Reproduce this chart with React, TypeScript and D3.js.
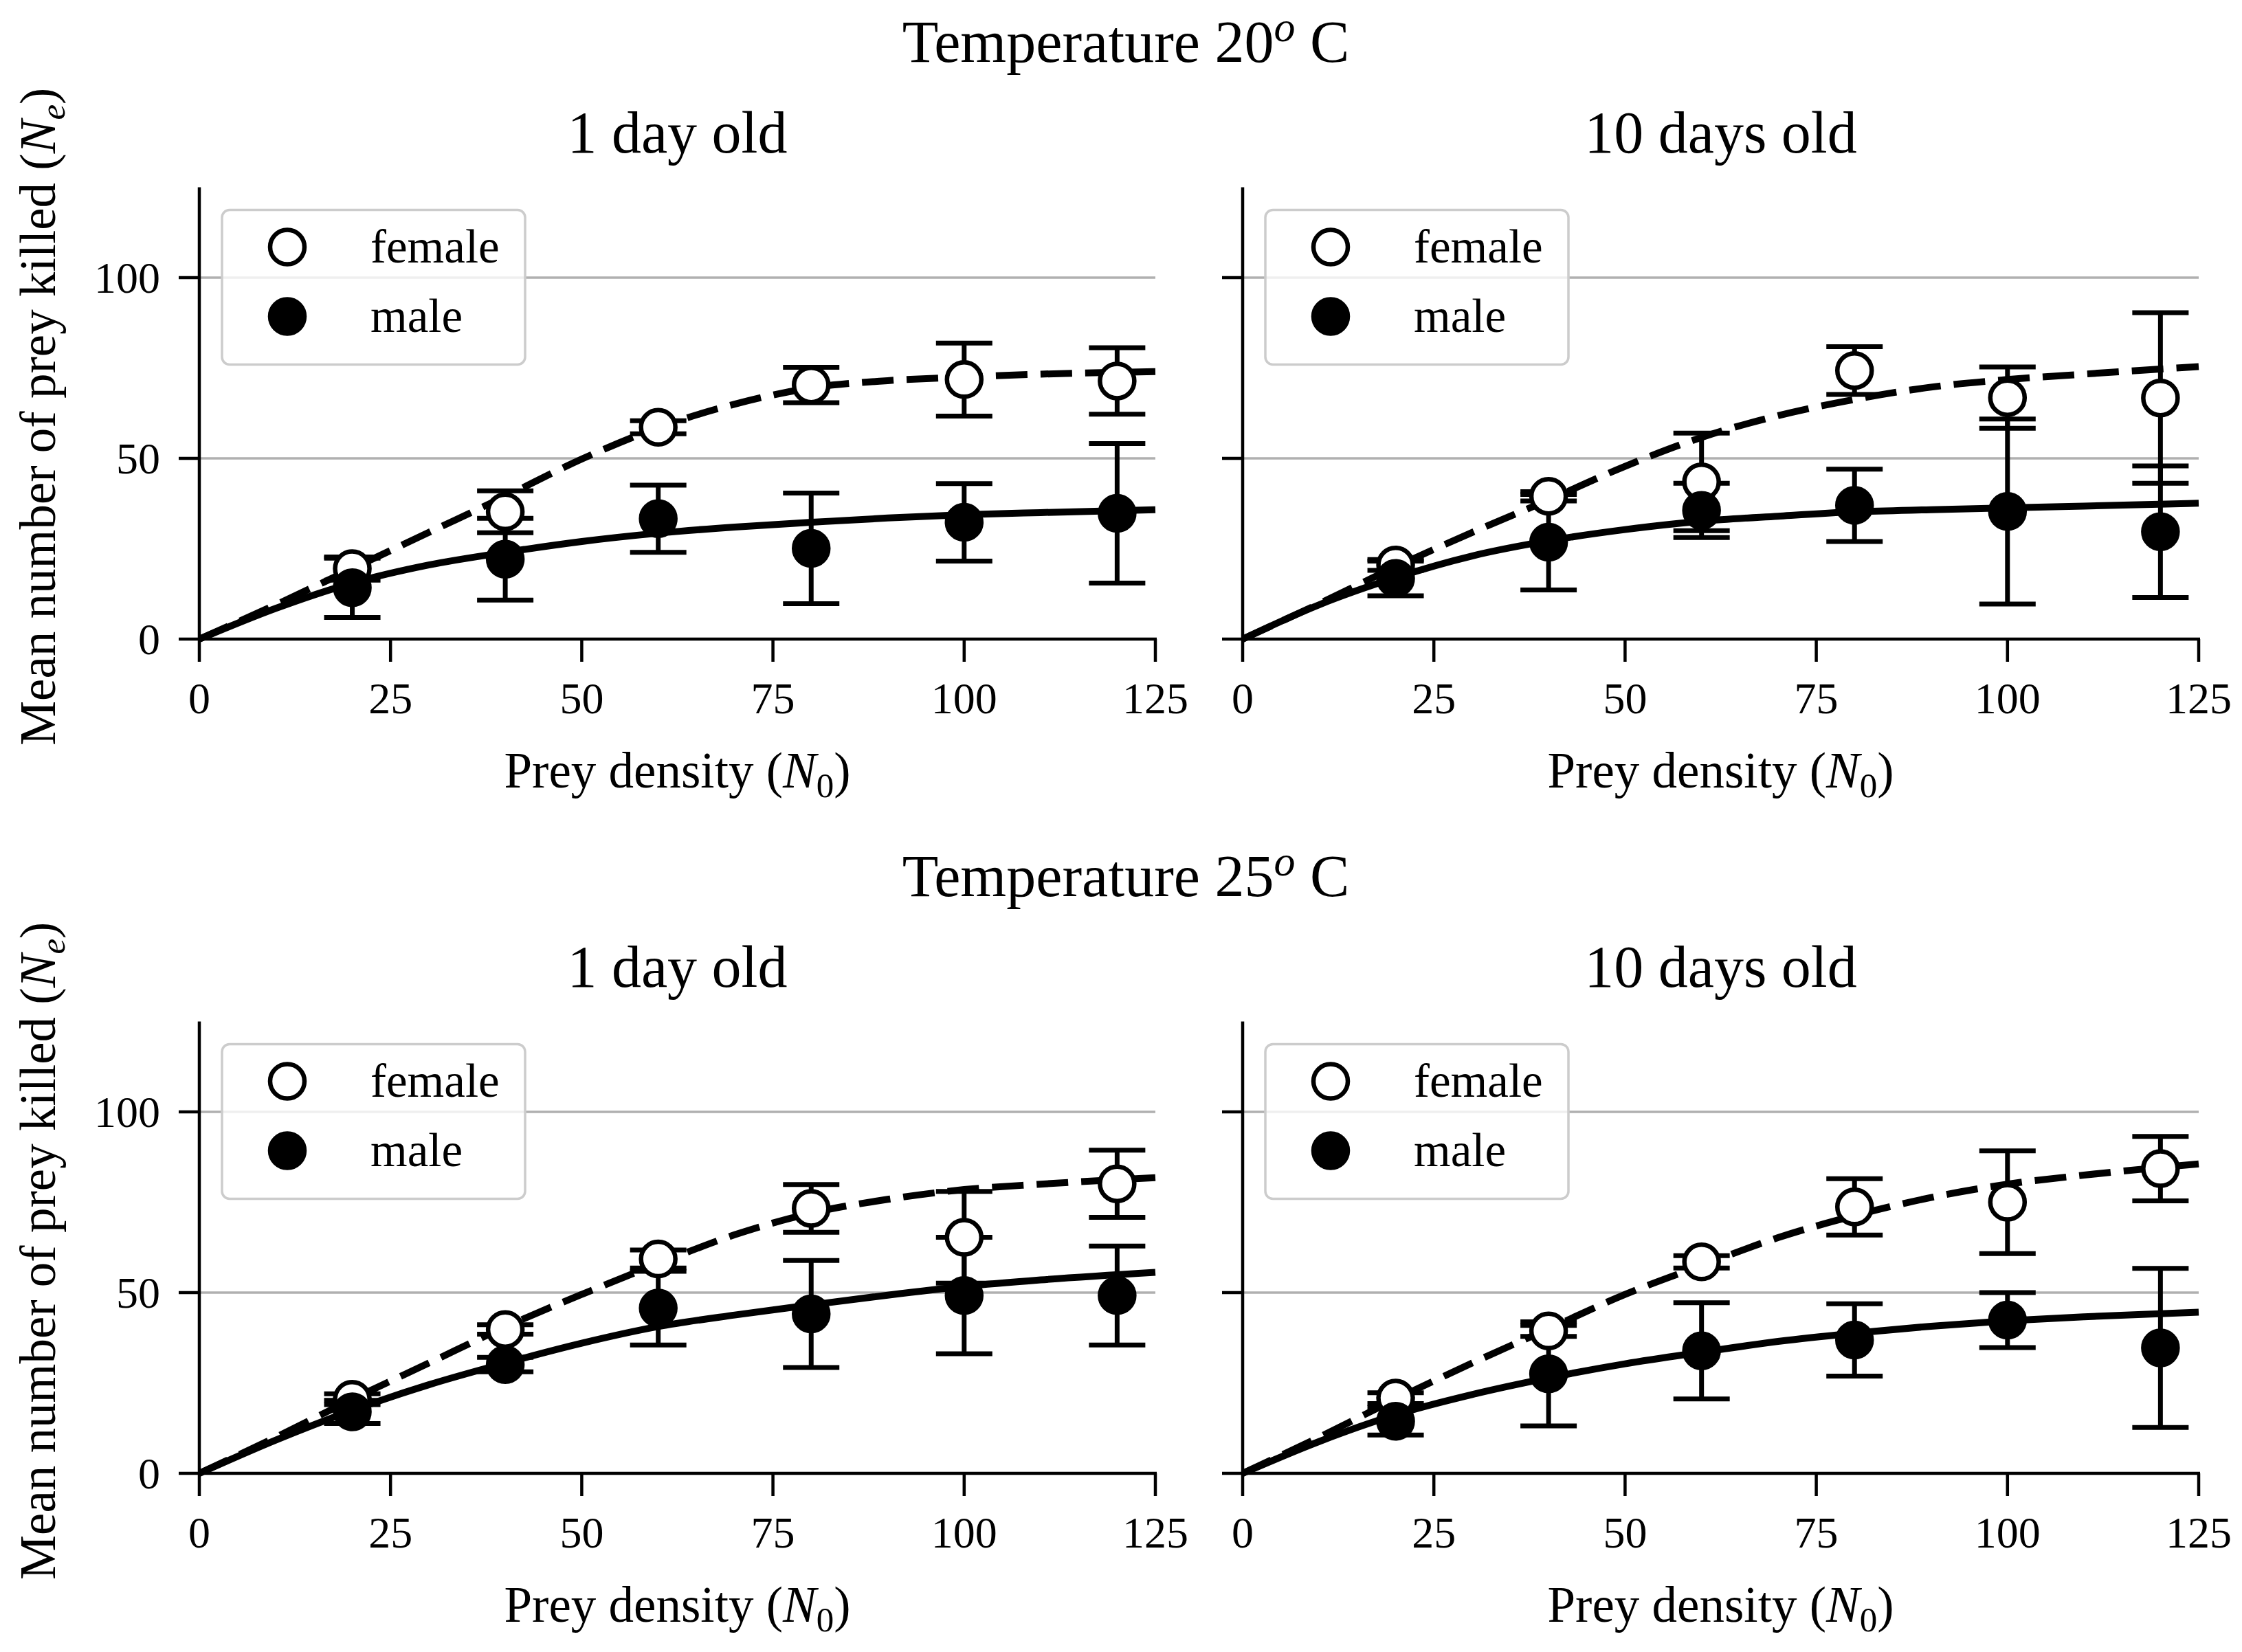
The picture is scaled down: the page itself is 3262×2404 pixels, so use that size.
import React from "react";
import * as d3 from "d3";

// ---------- data ----------
const preyDensity = [20, 40, 60, 80, 100, 120];
const xTicks = [0, 25, 50, 75, 100, 125];
const yTicks = [0, 50, 100];
const gridValues = [50, 100];
const curveX = [0, 10, 20, 30, 40, 50, 60, 70, 80, 90, 100, 110, 125];

const rowTitles = ["20", "25"];
const colTitles = ["1 day old", "10 days old"];

// 20 C, 1 day old
const t20d1FemaleMean = [19.5, 35.2, 58.6, 70.3, 71.8, 71.4];
const t20d1FemaleErr = [3.2, 5.8, 1.8, 4.9, 10.1, 9.2];
const t20d1MaleMean = [14.2, 22.1, 33.3, 25.1, 32.3, 34.8];
const t20d1MaleErr = [8.2, 11.3, 9.3, 15.3, 10.7, 19.3];
const t20d1FemaleFit = [0, 9.5, 19.5, 29.5, 39.5, 49.8, 58.5, 65, 69.5, 71.5, 72.5, 73.3, 74];
const t20d1MaleFit = [0, 8.5, 15.5, 20.5, 24, 27, 29.3, 31, 32.3, 33.5, 34.4, 35, 35.8];

// 20 C, 10 days old
const t20d10FemaleMean = [20.5, 39.5, 43.5, 74.3, 66.8, 66.7];
const t20d10FemaleErr = [1.5, 1.3, 13.5, 6.6, 8.5, 23.6];
const t20d10MaleMean = [16.8, 26.8, 35.6, 37, 35.3, 29.7];
const t20d10MaleErr = [4.8, 13.2, 7.5, 10, 25.6, 18.2];
const t20d10FemaleFit = [0, 9.8, 20, 29.5, 38.5, 47.8, 55.8, 61.8, 66.3, 69.7, 71.8, 73.3, 75.4];
const t20d10MaleFit = [0, 9.5, 17, 23, 27.2, 30.3, 32.6, 34, 35.2, 35.8, 36.3, 36.8, 37.6];

// 25 C, 1 day old
const t25d1FemaleMean = [20.5, 39.8, 59.3, 73.3, 65.3, 80.1];
const t25d1FemaleErr = [1.5, 1.3, 2.5, 6.6, 12.7, 9.3];
const t25d1MaleMean = [17, 30.1, 45.7, 44.1, 49.2, 49.2];
const t25d1MaleErr = [3.2, 2, 10.2, 14.8, 16.1, 13.7];
const t25d1FemaleFit = [0, 10, 20.5, 30.5, 40.5, 49.5, 58, 66, 72, 75.8, 78.5, 80, 81.8];
const t25d1MaleFit = [0, 9.2, 17.4, 24.5, 30.5, 36, 40.6, 43.8, 46.6, 49.3, 51.7, 53.5, 55.6];

// 25 C, 10 days old
const t25d10FemaleMean = [20.8, 39.4, 58.5, 73.7, 75, 84.3];
const t25d10FemaleErr = [1.5, 1.5, 1.7, 7.8, 14.2, 8.9];
const t25d10MaleMean = [14.4, 27.5, 33.9, 36.9, 42.4, 34.7];
const t25d10MaleErr = [3.8, 14.4, 13.3, 10, 7.6, 22];
const t25d10FemaleFit = [0, 10, 20.5, 30.5, 40, 49.5, 57.5, 65.2, 71.3, 76.3, 80, 82.5, 85.6];
const t25d10MaleFit = [0, 8.8, 16.2, 21.8, 26.4, 30.3, 33.5, 36.5, 38.8, 40.7, 42.2, 43.3, 44.6];

const panels = [
  { row: 0, col: 0, fm: t20d1FemaleMean, fe: t20d1FemaleErr, mm: t20d1MaleMean, me: t20d1MaleErr, ff: t20d1FemaleFit, mf: t20d1MaleFit },
  { row: 0, col: 1, fm: t20d10FemaleMean, fe: t20d10FemaleErr, mm: t20d10MaleMean, me: t20d10MaleErr, ff: t20d10FemaleFit, mf: t20d10MaleFit },
  { row: 1, col: 0, fm: t25d1FemaleMean, fe: t25d1FemaleErr, mm: t25d1MaleMean, me: t25d1MaleErr, ff: t25d1FemaleFit, mf: t25d1MaleFit },
  { row: 1, col: 1, fm: t25d10FemaleMean, fe: t25d10FemaleErr, mm: t25d10MaleMean, me: t25d10MaleErr, ff: t25d10FemaleFit, mf: t25d10MaleFit },
];

// ---------- layout ----------
const W = 3262;
const H = 2404;
const colLeft = [290, 1808];
const rowBottom = [930, 2144];
const plotW = 1391;
const plotH = 657.5;
const FONT = "'Liberation Serif', 'Times New Roman', serif";

const MARKER_R = 25;
const MARKER_SW = 6.5;
const CAP = 41;

function Panel({ p }: { p: any }) {
  const xl = colLeft[p.col];
  const yb = rowBottom[p.row];
  const x = d3.scaleLinear().domain([0, 125]).range([xl, xl + plotW]);
  const y = d3.scaleLinear().domain([0, 125]).range([yb, yb - plotH]);
  const top = y(125);
  const line = d3
    .line<number>()
    .x((_, i) => x(curveX[i]))
    .y((d) => y(d))
    .curve(d3.curveMonotoneX);

  const errBars = (means: number[], errs: number[], key: string) =>
    preyDensity.map((xv, i) => {
      const cx = x(xv);
      const y1 = y(means[i] + errs[i]);
      const y2 = y(means[i] - errs[i]);
      return (
        <g key={key + i} stroke="#000" strokeWidth={7} fill="none">
          <line x1={cx} x2={cx} y1={y1} y2={y2} />
          <line x1={cx - CAP} x2={cx + CAP} y1={y1} y2={y1} />
          <line x1={cx - CAP} x2={cx + CAP} y1={y2} y2={y2} />
        </g>
      );
    });

  return (
    <g>
      {/* grid */}
      {gridValues.map((g) => (
        <line key={"g" + g} x1={x(0)} x2={x(125)} y1={y(g)} y2={y(g)} stroke="#b0b0b0" strokeWidth={3.5} />
      ))}
      {/* fits */}
      <path d={line(p.ff) || ""} fill="none" stroke="#000" strokeWidth={10} strokeDasharray="46 19" />
      <path d={line(p.mf) || ""} fill="none" stroke="#000" strokeWidth={10} />
      {/* error bars */}
      {errBars(p.fm, p.fe, "fe")}
      {errBars(p.mm, p.me, "me")}
      {/* markers */}
      {preyDensity.map((xv, i) => (
        <circle key={"fm" + i} cx={x(xv)} cy={y(p.fm[i])} r={MARKER_R} fill="#fff" stroke="#000" strokeWidth={MARKER_SW} />
      ))}
      {preyDensity.map((xv, i) => (
        <circle key={"mm" + i} cx={x(xv)} cy={y(p.mm[i])} r={MARKER_R} fill="#000" stroke="#000" strokeWidth={MARKER_SW} />
      ))}
      {/* spines */}
      <line x1={x(0)} x2={x(0)} y1={y(0) + 2} y2={top} stroke="#000" strokeWidth={4.5} />
      <line x1={x(0) - 2} x2={x(125) + 2} y1={y(0)} y2={y(0)} stroke="#000" strokeWidth={4.5} />
      {/* x ticks */}
      {xTicks.map((t) => (
        <g key={"xt" + t}>
          <line x1={x(t)} x2={x(t)} y1={y(0)} y2={y(0) + 33} stroke="#000" strokeWidth={4.5} />
          <text x={x(t)} y={y(0) + 108} textAnchor="middle" fontFamily={FONT} fontSize={64} fill="#000">
            {t}
          </text>
        </g>
      ))}
      {/* y ticks */}
      {yTicks.map((t) => (
        <g key={"yt" + t}>
          <line x1={x(0)} x2={x(0) - 30} y1={y(t)} y2={y(t)} stroke="#000" strokeWidth={4.5} />
          {p.col === 0 && (
            <text x={x(0) - 57} y={y(t) + 22} textAnchor="end" fontFamily={FONT} fontSize={64} fill="#000">
              {t}
            </text>
          )}
        </g>
      ))}
      {/* x label */}
      <text x={xl + plotW / 2} y={yb + 216} textAnchor="middle" fontFamily={FONT} fontSize={73} fill="#000">
        Prey density (<tspan fontStyle="italic">N</tspan>
        <tspan dy={14} fontSize={51}>0</tspan>
        <tspan dy={-14}>)</tspan>
      </text>
      {/* y label */}
      {p.col === 0 && (
        <text
          transform={`translate(80, ${(yb + top) / 2 + 5}) rotate(-90)`}
          textAnchor="middle"
          fontFamily={FONT}
          fontSize={73}
          fill="#000"
        >
          Mean number of prey killed (<tspan fontStyle="italic">N</tspan>
          <tspan dy={14} fontSize={51} fontStyle="italic">e</tspan>
          <tspan dy={-14}>)</tspan>
        </text>
      )}
      {/* subtitle */}
      <text x={xl + plotW / 2} y={yb - 708} textAnchor="middle" fontFamily={FONT} fontSize={86} fill="#000">
        {colTitles[p.col]}
      </text>
      {/* legend */}
      <rect x={xl + 33} y={top + 33} width={441} height={225} rx={11} ry={11} fill="#fff" fillOpacity={0.8} stroke="#cccccc" strokeWidth={3.5} />
      <circle cx={xl + 128} cy={top + 87} r={MARKER_R} fill="#fff" stroke="#000" strokeWidth={MARKER_SW} />
      <circle cx={xl + 128} cy={top + 188} r={MARKER_R} fill="#000" stroke="#000" strokeWidth={MARKER_SW} />
      <text x={xl + 249} y={top + 109} fontFamily={FONT} fontSize={69} fill="#000">female</text>
      <text x={xl + 249} y={top + 210} fontFamily={FONT} fontSize={69} fill="#000">male</text>
    </g>
  );
}

export default function App() {
  return (
    <svg
      width={W}
      height={H}
      viewBox={`0 0 ${W} ${H}`}
      style={{ position: "absolute", left: 0, top: 0, background: "#fff" }}
    >
      <rect x={0} y={0} width={W} height={H} fill="#fff" />
      {rowTitles.map((t, r) => (
        <text key={"rt" + r} x={1638} y={rowBottom[r] - 840} textAnchor="middle" fontFamily={FONT} fontSize={86} fill="#000">
          Temperature {t}
          <tspan dy={-30} fontSize={62} fontStyle="italic">o</tspan>
          <tspan dy={30}> C</tspan>
        </text>
      ))}
      {panels.map((p, i) => (
        <Panel key={i} p={p} />
      ))}
    </svg>
  );
}
